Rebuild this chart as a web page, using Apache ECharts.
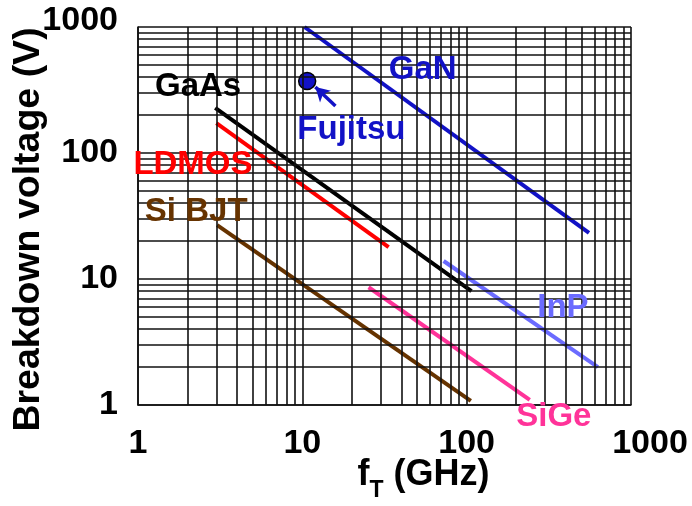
<!DOCTYPE html>
<html>
<head>
<meta charset="utf-8">
<script src="https://cdn.jsdelivr.net/npm/echarts@6/dist/echarts.min.js"></script>
<style>
  html, body { margin: 0; padding: 0; background: #ffffff; }
  #chart { width: 692px; height: 506px; }
</style>
</head>
<body>
<div id="chart"></div>
<script>
// Log-log grid: lines at 1..9 of every decade
const xGridValues = [1, 2, 3, 4, 5, 6, 7, 8, 9, 10, 20, 30, 40, 50, 60, 70, 80, 90, 100, 200, 300, 400, 500, 600, 700, 800, 900, 1000];
const yGridValues = [1, 2, 3, 4, 5, 6, 7, 8, 9, 10, 20, 30, 40, 50, 60, 70, 80, 90, 100, 200, 300, 400, 500, 600, 700, 800, 900, 1000];

// Breakdown voltage (V) versus fT (GHz) for each technology
const technologyNames = ['GaN', 'GaAs', 'LDMOS', 'Si BJT', 'SiGe', 'InP'];
const ganPoints   = [[10.3, 1000], [555, 23.2]];
const gaasPoints  = [[2.95, 228], [107, 8.0]];
const ldmosPoints = [[3.0, 173], [33.5, 17.9]];
const sibjtPoints = [[3.03, 26.8], [106, 1.08]];
const sigePoints  = [[25.3, 8.6], [242, 1.1]];
const inpPoints   = [[72.4, 13.9], [629, 2.0]];

// Single reported device
const fujitsuPoint = [[10.7, 373]];

// Text annotations placed in data space
const annotationTexts = ['GaN', 'GaAs', 'Fujitsu', 'LDMOS', 'Si BJT', 'InP', 'SiGe'];
const annotationAnchors = [[54, 456], [2.32, 334], [19.9, 152], [2.16, 80], [2.26, 34], [385, 5.9], [339, 0.80]];

const palette = {
  'GaN': '#1212c6',
  'GaAs': '#000000',
  'Fujitsu': '#1212c6',
  'LDMOS': '#ff0000',
  'Si BJT': '#663300',
  'SiGe': '#ff3399',
  'InP': '#6b6bff'
};

const linePoints = [ganPoints, gaasPoints, ldmosPoints, sibjtPoints, sigePoints, inpPoints];

const FONT = '"Liberation Sans", Arial, sans-serif';

const gridLineStyle = { color: '#111111', width: 1.6, type: 'solid' };

const chart = echarts.init(document.getElementById('chart'));

const series = [];

// grid lines drawn as mark lines so they follow the log scale
series.push({
  type: 'line',
  data: [],
  z: 1,
  silent: true,
  markLine: {
    silent: true,
    symbol: ['none', 'none'],
    animation: false,
    label: { show: false },
    lineStyle: gridLineStyle,
    data: xGridValues.map(v => ({ xAxis: v })).concat(yGridValues.map(v => ({ yAxis: v })))
  }
});

technologyNames.forEach((name, i) => {
  series.push({
    name: name,
    type: 'line',
    data: linePoints[i],
    z: 3,
    symbol: 'none',
    clip: false,
    lineStyle: { color: palette[name], width: 4, cap: 'butt', opacity: 1 }
  });
});

series.push({
  name: 'Fujitsu',
  type: 'scatter',
  data: fujitsuPoint,
  z: 4,
  symbol: 'circle',
  symbolSize: 17,
  itemStyle: { color: palette['Fujitsu'], borderColor: '#000000', borderWidth: 1.5, opacity: 1 },
  markLine: {
    silent: true,
    symbol: ['none', 'arrow'],
    symbolSize: [12, 14],
    label: { show: false },
    lineStyle: { color: palette['Fujitsu'], width: 3.5, type: 'solid', opacity: 1 },
    data: [[{ coord: [15.9, 236] }, { coord: [12.0, 334] }]]
  }
});

series.push({
  type: 'scatter',
  z: 5,
  clip: false,
  silent: true,
  symbolSize: 0,
  itemStyle: { opacity: 1 },
  data: annotationTexts.map((t, i) => ({
    value: annotationAnchors[i],
    name: t,
    label: { color: palette[t] }
  })),
  label: {
    show: true,
    position: 'inside',
    formatter: p => p.name,
    fontFamily: FONT,
    fontWeight: 'bold',
    fontSize: 33,
    opacity: 1,
    textBorderWidth: 0
  }
});

chart.setOption({
  animation: false,
  backgroundColor: '#ffffff',
  grid: { left: 138, right: 61, top: 27, bottom: 101, containLabel: false, outerBoundsMode: 'none' },
  xAxis: {
    type: 'log',
    logBase: 10,
    min: 1,
    max: 1000,
    axisLine: { show: true, lineStyle: { color: '#111111', width: 1.6 } },
    axisTick: { show: false },
    splitLine: { show: false },
    axisLabel: {
      margin: 22,
      color: '#000000',
      fontFamily: FONT,
      fontWeight: 'bold',
      fontSize: 34,
      formatter: v => (v === 1000 ? '{e|1000}' : String(v)),
      rich: {
        e: { padding: [0, 0, 0, 38], fontFamily: FONT, fontWeight: 'bold', fontSize: 34, color: '#000000' }
      }
    },
    name: '{m|f}{s|T}{m| (GHz)}',
    nameLocation: 'middle',
    nameGap: 44,
    nameMoveOverlap: false,
    nameTextStyle: {
      padding: [0, 0, 0, 78],
      rich: {
        m: { fontFamily: FONT, fontWeight: 'bold', fontSize: 36, color: '#000000' },
        s: { fontFamily: FONT, fontWeight: 'bold', fontSize: 23, color: '#000000', padding: [30, 0, 0, 0] }
      }
    }
  },
  yAxis: {
    type: 'log',
    logBase: 10,
    min: 1,
    max: 1000,
    axisLine: { show: true, lineStyle: { color: '#111111', width: 1.6 } },
    axisTick: { show: false },
    splitLine: { show: false },
    axisLabel: {
      margin: 20,
      color: '#000000',
      fontFamily: FONT,
      fontWeight: 'bold',
      fontSize: 34,
      formatter: v => (v === 1000 ? '{e|1000}' : String(v)),
      rich: {
        e: { padding: [0, 0, 13, 0], fontFamily: FONT, fontWeight: 'bold', fontSize: 34, color: '#000000' }
      }
    },
    name: 'Breakdown voltage (V)',
    nameLocation: 'middle',
    nameGap: 90,
    nameMoveOverlap: false,
    nameTextStyle: {
      fontFamily: FONT,
      fontWeight: 'bold',
      fontSize: 37.5,
      color: '#000000',
      padding: [0, 27, 0, 0]
    }
  },
  series: series
});
</script>
</body>
</html>
